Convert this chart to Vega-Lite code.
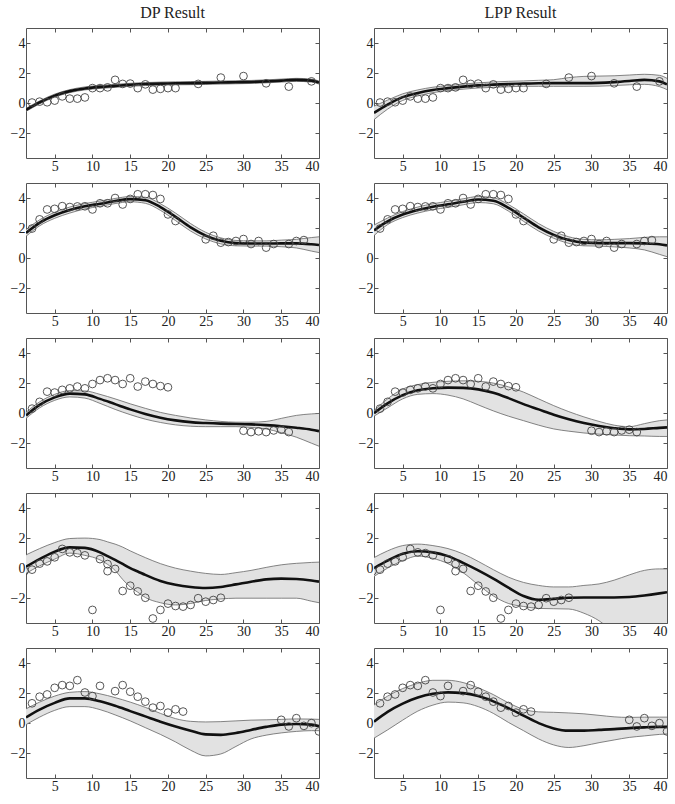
{
"$schema": "https://vega.github.io/schema/vega-lite/v6.json",
"padding": {"left": 5, "top": 5, "right": 5, "bottom": 2},
"config": {
 "font": "Liberation Serif",
 "view": {"stroke": "#555", "strokeWidth": 1},
 "axis": {"grid": false, "domain": false, "labelFont": "Liberation Serif", "labelFontSize": 14, "labelColor": "#222", "tickColor": "#555", "tickSize": -4, "labelPadding": 5, "title": null}
},
"data": {"values": [
{"m":["D"],"r":1,"x":1.2,"lo":-0.55,"mu":-0.45,"hi":-0.35},
{"m":["D"],"r":1,"x":3,"lo":-0.05,"mu":0.05,"hi":0.15},
{"m":["D"],"r":1,"x":5,"lo":0.4,"mu":0.5,"hi":0.6},
{"m":["D"],"r":1,"x":7,"lo":0.7,"mu":0.8,"hi":0.9},
{"m":["D"],"r":1,"x":9,"lo":0.88,"mu":0.98,"hi":1.08},
{"m":["D"],"r":1,"x":11,"lo":0.98,"mu":1.08,"hi":1.18},
{"m":["D"],"r":1,"x":13,"lo":1.05,"mu":1.15,"hi":1.25},
{"m":["D"],"r":1,"x":15,"lo":1.12,"mu":1.22,"hi":1.32},
{"m":["D"],"r":1,"x":17,"lo":1.17,"mu":1.27,"hi":1.37},
{"m":["D"],"r":1,"x":19,"lo":1.2,"mu":1.3,"hi":1.4},
{"m":["D"],"r":1,"x":21,"lo":1.22,"mu":1.32,"hi":1.42},
{"m":["D"],"r":1,"x":23,"lo":1.23,"mu":1.33,"hi":1.43},
{"m":["D"],"r":1,"x":25,"lo":1.25,"mu":1.35,"hi":1.45},
{"m":["D"],"r":1,"x":27,"lo":1.27,"mu":1.37,"hi":1.47},
{"m":["D"],"r":1,"x":29,"lo":1.29,"mu":1.39,"hi":1.49},
{"m":["D"],"r":1,"x":31,"lo":1.31,"mu":1.41,"hi":1.51},
{"m":["D"],"r":1,"x":33,"lo":1.35,"mu":1.45,"hi":1.55},
{"m":["D"],"r":1,"x":35,"lo":1.4,"mu":1.5,"hi":1.6},
{"m":["D"],"r":1,"x":37,"lo":1.45,"mu":1.55,"hi":1.65},
{"m":["D"],"r":1,"x":39,"lo":1.4,"mu":1.5,"hi":1.6},
{"m":["D"],"r":1,"x":40,"lo":1.27,"mu":1.37,"hi":1.47},
{"m":["L"],"r":1,"x":1.2,"lo":-1.1,"mu":-0.65,"hi":-0.2},
{"m":["L"],"r":1,"x":3,"lo":-0.4,"mu":-0.1,"hi":0.2},
{"m":["L"],"r":1,"x":5,"lo":0.18,"mu":0.4,"hi":0.62},
{"m":["L"],"r":1,"x":7,"lo":0.48,"mu":0.68,"hi":0.88},
{"m":["L"],"r":1,"x":9,"lo":0.7,"mu":0.88,"hi":1.06},
{"m":["L"],"r":1,"x":11,"lo":0.83,"mu":1.0,"hi":1.17},
{"m":["L"],"r":1,"x":13,"lo":0.93,"mu":1.1,"hi":1.27},
{"m":["L"],"r":1,"x":15,"lo":1.01,"mu":1.18,"hi":1.35},
{"m":["L"],"r":1,"x":17,"lo":1.05,"mu":1.23,"hi":1.41},
{"m":["L"],"r":1,"x":19,"lo":1.09,"mu":1.27,"hi":1.45},
{"m":["L"],"r":1,"x":21,"lo":1.12,"mu":1.3,"hi":1.48},
{"m":["L"],"r":1,"x":23,"lo":1.12,"mu":1.32,"hi":1.52},
{"m":["L"],"r":1,"x":25,"lo":1.12,"mu":1.33,"hi":1.56},
{"m":["L"],"r":1,"x":27,"lo":1.12,"mu":1.33,"hi":1.7},
{"m":["L"],"r":1,"x":29,"lo":1.12,"mu":1.33,"hi":1.78},
{"m":["L"],"r":1,"x":31,"lo":1.13,"mu":1.35,"hi":1.8},
{"m":["L"],"r":1,"x":33,"lo":1.17,"mu":1.4,"hi":1.82},
{"m":["L"],"r":1,"x":35,"lo":1.22,"mu":1.47,"hi":1.87},
{"m":["L"],"r":1,"x":37,"lo":1.25,"mu":1.55,"hi":1.92},
{"m":["L"],"r":1,"x":39,"lo":1.1,"mu":1.45,"hi":1.85},
{"m":["L"],"r":1,"x":40,"lo":0.9,"mu":1.25,"hi":1.65},
{"m":["D"],"r":2,"x":1.2,"lo":1.45,"mu":1.68,"hi":1.9},
{"m":["D"],"r":2,"x":3,"lo":2.15,"mu":2.35,"hi":2.55},
{"m":["D"],"r":2,"x":5,"lo":2.65,"mu":2.85,"hi":3.05},
{"m":["D"],"r":2,"x":7,"lo":3.0,"mu":3.2,"hi":3.4},
{"m":["D"],"r":2,"x":9,"lo":3.27,"mu":3.45,"hi":3.63},
{"m":["D"],"r":2,"x":11,"lo":3.45,"mu":3.62,"hi":3.8},
{"m":["D"],"r":2,"x":13,"lo":3.63,"mu":3.8,"hi":3.97},
{"m":["D"],"r":2,"x":15,"lo":3.75,"mu":3.93,"hi":4.1},
{"m":["D"],"r":2,"x":17,"lo":3.65,"mu":3.85,"hi":4.05},
{"m":["D"],"r":2,"x":19,"lo":3.18,"mu":3.4,"hi":3.62},
{"m":["D"],"r":2,"x":21,"lo":2.5,"mu":2.75,"hi":3.0},
{"m":["D"],"r":2,"x":23,"lo":1.8,"mu":2.05,"hi":2.3},
{"m":["D"],"r":2,"x":25,"lo":1.28,"mu":1.5,"hi":1.72},
{"m":["D"],"r":2,"x":27,"lo":0.95,"mu":1.15,"hi":1.35},
{"m":["D"],"r":2,"x":29,"lo":0.82,"mu":1.0,"hi":1.18},
{"m":["D"],"r":2,"x":31,"lo":0.8,"mu":0.97,"hi":1.15},
{"m":["D"],"r":2,"x":33,"lo":0.8,"mu":0.97,"hi":1.15},
{"m":["D"],"r":2,"x":35,"lo":0.76,"mu":0.98,"hi":1.2},
{"m":["D"],"r":2,"x":37,"lo":0.68,"mu":0.98,"hi":1.25},
{"m":["D"],"r":2,"x":39,"lo":0.47,"mu":0.92,"hi":1.37},
{"m":["D"],"r":2,"x":40,"lo":0.37,"mu":0.87,"hi":1.42},
{"m":["L"],"r":2,"x":1.2,"lo":1.5,"mu":1.85,"hi":2.2},
{"m":["L"],"r":2,"x":3,"lo":2.23,"mu":2.45,"hi":2.67},
{"m":["L"],"r":2,"x":5,"lo":2.7,"mu":2.9,"hi":3.1},
{"m":["L"],"r":2,"x":7,"lo":3.0,"mu":3.2,"hi":3.4},
{"m":["L"],"r":2,"x":9,"lo":3.22,"mu":3.42,"hi":3.62},
{"m":["L"],"r":2,"x":11,"lo":3.38,"mu":3.58,"hi":3.78},
{"m":["L"],"r":2,"x":13,"lo":3.55,"mu":3.75,"hi":3.95},
{"m":["L"],"r":2,"x":15,"lo":3.7,"mu":3.9,"hi":4.1},
{"m":["L"],"r":2,"x":17,"lo":3.62,"mu":3.82,"hi":4.02},
{"m":["L"],"r":2,"x":19,"lo":3.13,"mu":3.35,"hi":3.57},
{"m":["L"],"r":2,"x":21,"lo":2.45,"mu":2.7,"hi":2.95},
{"m":["L"],"r":2,"x":23,"lo":1.8,"mu":2.05,"hi":2.3},
{"m":["L"],"r":2,"x":25,"lo":1.32,"mu":1.55,"hi":1.78},
{"m":["L"],"r":2,"x":27,"lo":0.98,"mu":1.2,"hi":1.42},
{"m":["L"],"r":2,"x":29,"lo":0.82,"mu":1.03,"hi":1.25},
{"m":["L"],"r":2,"x":31,"lo":0.8,"mu":1.0,"hi":1.22},
{"m":["L"],"r":2,"x":33,"lo":0.75,"mu":1.0,"hi":1.25},
{"m":["L"],"r":2,"x":35,"lo":0.68,"mu":1.0,"hi":1.3},
{"m":["L"],"r":2,"x":37,"lo":0.55,"mu":0.98,"hi":1.38},
{"m":["L"],"r":2,"x":39,"lo":0.25,"mu":0.92,"hi":1.42},
{"m":["L"],"r":2,"x":40,"lo":0.1,"mu":0.85,"hi":1.42},
{"m":["D"],"r":3,"x":1.2,"lo":-0.35,"mu":-0.15,"hi":0.05},
{"m":["D"],"r":3,"x":3,"lo":0.35,"mu":0.55,"hi":0.75},
{"m":["D"],"r":3,"x":5,"lo":0.85,"mu":1.05,"hi":1.25},
{"m":["D"],"r":3,"x":7,"lo":1.08,"mu":1.3,"hi":1.5},
{"m":["D"],"r":3,"x":9,"lo":1.0,"mu":1.25,"hi":1.48},
{"m":["D"],"r":3,"x":11,"lo":0.65,"mu":0.95,"hi":1.25},
{"m":["D"],"r":3,"x":13,"lo":0.25,"mu":0.6,"hi":0.95},
{"m":["D"],"r":3,"x":15,"lo":-0.1,"mu":0.25,"hi":0.62},
{"m":["D"],"r":3,"x":17,"lo":-0.4,"mu":-0.05,"hi":0.32},
{"m":["D"],"r":3,"x":19,"lo":-0.62,"mu":-0.3,"hi":0.05},
{"m":["D"],"r":3,"x":21,"lo":-0.78,"mu":-0.48,"hi":-0.15},
{"m":["D"],"r":3,"x":23,"lo":-0.87,"mu":-0.6,"hi":-0.32},
{"m":["D"],"r":3,"x":25,"lo":-0.9,"mu":-0.66,"hi":-0.45},
{"m":["D"],"r":3,"x":27,"lo":-0.9,"mu":-0.7,"hi":-0.55},
{"m":["D"],"r":3,"x":29,"lo":-0.9,"mu":-0.72,"hi":-0.6},
{"m":["D"],"r":3,"x":31,"lo":-0.95,"mu":-0.75,"hi":-0.6},
{"m":["D"],"r":3,"x":33,"lo":-1.05,"mu":-0.8,"hi":-0.55},
{"m":["D"],"r":3,"x":35,"lo":-1.3,"mu":-0.87,"hi":-0.35},
{"m":["D"],"r":3,"x":37,"lo":-1.6,"mu":-0.97,"hi":-0.15},
{"m":["D"],"r":3,"x":39,"lo":-2.0,"mu":-1.1,"hi":-0.05},
{"m":["D"],"r":3,"x":40,"lo":-2.2,"mu":-1.2,"hi":-0.02},
{"m":["L"],"r":3,"x":1.2,"lo":-0.2,"mu":0.0,"hi":0.15},
{"m":["L"],"r":3,"x":3,"lo":0.35,"mu":0.65,"hi":0.95},
{"m":["L"],"r":3,"x":5,"lo":0.95,"mu":1.2,"hi":1.6},
{"m":["L"],"r":3,"x":7,"lo":1.25,"mu":1.52,"hi":1.9},
{"m":["L"],"r":3,"x":9,"lo":1.3,"mu":1.66,"hi":2.05},
{"m":["L"],"r":3,"x":11,"lo":1.2,"mu":1.7,"hi":2.12},
{"m":["L"],"r":3,"x":13,"lo":0.95,"mu":1.68,"hi":2.15},
{"m":["L"],"r":3,"x":15,"lo":0.55,"mu":1.58,"hi":2.12},
{"m":["L"],"r":3,"x":17,"lo":0.15,"mu":1.35,"hi":2.0},
{"m":["L"],"r":3,"x":19,"lo":-0.2,"mu":1.0,"hi":1.75},
{"m":["L"],"r":3,"x":21,"lo":-0.5,"mu":0.6,"hi":1.4},
{"m":["L"],"r":3,"x":23,"lo":-0.8,"mu":0.25,"hi":0.95},
{"m":["L"],"r":3,"x":25,"lo":-1.05,"mu":-0.1,"hi":0.5},
{"m":["L"],"r":3,"x":27,"lo":-1.2,"mu":-0.4,"hi":0.1},
{"m":["L"],"r":3,"x":29,"lo":-1.32,"mu":-0.65,"hi":-0.25},
{"m":["L"],"r":3,"x":31,"lo":-1.4,"mu":-0.85,"hi":-0.55},
{"m":["L"],"r":3,"x":33,"lo":-1.45,"mu":-1.0,"hi":-0.8},
{"m":["L"],"r":3,"x":35,"lo":-1.5,"mu":-1.08,"hi":-0.9},
{"m":["L"],"r":3,"x":37,"lo":-1.52,"mu":-1.05,"hi":-0.7},
{"m":["L"],"r":3,"x":39,"lo":-1.55,"mu":-0.98,"hi":-0.5},
{"m":["L"],"r":3,"x":40,"lo":-1.55,"mu":-0.95,"hi":-0.45},
{"m":["D"],"r":4,"x":1.2,"lo":-0.35,"mu":0.1,"hi":0.88},
{"m":["D"],"r":4,"x":3,"lo":0.15,"mu":0.6,"hi":1.3},
{"m":["D"],"r":4,"x":5,"lo":0.6,"mu":1.1,"hi":1.7},
{"m":["D"],"r":4,"x":7,"lo":1.0,"mu":1.38,"hi":1.97},
{"m":["D"],"r":4,"x":9,"lo":0.85,"mu":1.35,"hi":2.0},
{"m":["D"],"r":4,"x":11,"lo":0.55,"mu":1.05,"hi":1.9},
{"m":["D"],"r":4,"x":12,"lo":0.25,"mu":0.8,"hi":1.75},
{"m":["D"],"r":4,"x":13,"lo":-0.15,"mu":0.55,"hi":1.6},
{"m":["D"],"r":4,"x":14,"lo":-0.75,"mu":0.28,"hi":1.4},
{"m":["D"],"r":4,"x":15,"lo":-1.25,"mu":0.0,"hi":1.15},
{"m":["D"],"r":4,"x":16,"lo":-1.6,"mu":-0.22,"hi":0.92},
{"m":["D"],"r":4,"x":17,"lo":-1.95,"mu":-0.45,"hi":0.7},
{"m":["D"],"r":4,"x":19,"lo":-2.3,"mu":-0.85,"hi":0.3},
{"m":["D"],"r":4,"x":21,"lo":-2.45,"mu":-1.1,"hi":0.0},
{"m":["D"],"r":4,"x":23,"lo":-2.35,"mu":-1.25,"hi":-0.2},
{"m":["D"],"r":4,"x":25,"lo":-2.15,"mu":-1.32,"hi":-0.35},
{"m":["D"],"r":4,"x":27,"lo":-2.05,"mu":-1.25,"hi":-0.42},
{"m":["D"],"r":4,"x":29,"lo":-2.0,"mu":-1.08,"hi":-0.3},
{"m":["D"],"r":4,"x":31,"lo":-2.0,"mu":-0.9,"hi":-0.15},
{"m":["D"],"r":4,"x":33,"lo":-2.0,"mu":-0.75,"hi":0.05},
{"m":["D"],"r":4,"x":35,"lo":-2.0,"mu":-0.7,"hi":0.22},
{"m":["D"],"r":4,"x":37,"lo":-2.0,"mu":-0.72,"hi":0.32},
{"m":["D"],"r":4,"x":39,"lo":-2.2,"mu":-0.82,"hi":0.38},
{"m":["D"],"r":4,"x":40,"lo":-2.3,"mu":-0.9,"hi":0.4},
{"m":["L"],"r":4,"x":1.2,"lo":-0.55,"mu":0.0,"hi":0.7},
{"m":["L"],"r":4,"x":3,"lo":0.0,"mu":0.5,"hi":1.15},
{"m":["L"],"r":4,"x":5,"lo":0.5,"mu":0.95,"hi":1.5},
{"m":["L"],"r":4,"x":7,"lo":0.8,"mu":1.12,"hi":1.6},
{"m":["L"],"r":4,"x":9,"lo":0.65,"mu":1.05,"hi":1.5},
{"m":["L"],"r":4,"x":11,"lo":0.3,"mu":0.8,"hi":1.3},
{"m":["L"],"r":4,"x":13,"lo":-0.3,"mu":0.35,"hi":0.95},
{"m":["L"],"r":4,"x":15,"lo":-1.1,"mu":-0.15,"hi":0.45},
{"m":["L"],"r":4,"x":17,"lo":-1.85,"mu":-0.7,"hi":-0.1},
{"m":["L"],"r":4,"x":19,"lo":-2.35,"mu":-1.3,"hi":-0.6},
{"m":["L"],"r":4,"x":21,"lo":-2.55,"mu":-1.85,"hi":-0.95},
{"m":["L"],"r":4,"x":23,"lo":-2.68,"mu":-2.1,"hi":-1.15},
{"m":["L"],"r":4,"x":25,"lo":-2.7,"mu":-2.05,"hi":-1.25},
{"m":["L"],"r":4,"x":27,"lo":-2.72,"mu":-1.97,"hi":-1.25},
{"m":["L"],"r":4,"x":29,"lo":-3.0,"mu":-1.95,"hi":-1.15},
{"m":["L"],"r":4,"x":31,"lo":-3.5,"mu":-1.95,"hi":-1.05},
{"m":["L"],"r":4,"x":33,"lo":-4.3,"mu":-1.95,"hi":-0.8},
{"m":["L"],"r":4,"x":35,"lo":-5.0,"mu":-1.92,"hi":-0.45},
{"m":["L"],"r":4,"x":37,"lo":-5.7,"mu":-1.82,"hi":-0.15},
{"m":["L"],"r":4,"x":39,"lo":-6.4,"mu":-1.68,"hi":-0.05},
{"m":["L"],"r":4,"x":40,"lo":-6.8,"mu":-1.6,"hi":-0.05},
{"m":["D"],"r":5,"x":1.2,"lo":-0.1,"mu":0.38,"hi":0.95},
{"m":["D"],"r":5,"x":3,"lo":0.4,"mu":0.9,"hi":1.4},
{"m":["D"],"r":5,"x":5,"lo":0.85,"mu":1.35,"hi":1.8},
{"m":["D"],"r":5,"x":7,"lo":1.1,"mu":1.65,"hi":2.05},
{"m":["D"],"r":5,"x":9,"lo":1.1,"mu":1.65,"hi":2.1},
{"m":["D"],"r":5,"x":11,"lo":0.9,"mu":1.45,"hi":1.95},
{"m":["D"],"r":5,"x":13,"lo":0.55,"mu":1.15,"hi":1.7},
{"m":["D"],"r":5,"x":15,"lo":0.15,"mu":0.8,"hi":1.4},
{"m":["D"],"r":5,"x":17,"lo":-0.3,"mu":0.45,"hi":1.05},
{"m":["D"],"r":5,"x":19,"lo":-0.75,"mu":0.1,"hi":0.65},
{"m":["D"],"r":5,"x":21,"lo":-1.25,"mu":-0.22,"hi":0.3},
{"m":["D"],"r":5,"x":23,"lo":-1.8,"mu":-0.5,"hi":0.12},
{"m":["D"],"r":5,"x":25,"lo":-2.18,"mu":-0.75,"hi":0.08},
{"m":["D"],"r":5,"x":27,"lo":-2.05,"mu":-0.78,"hi":0.1},
{"m":["D"],"r":5,"x":29,"lo":-1.55,"mu":-0.65,"hi":0.15},
{"m":["D"],"r":5,"x":31,"lo":-1.05,"mu":-0.45,"hi":0.2},
{"m":["D"],"r":5,"x":33,"lo":-0.8,"mu":-0.25,"hi":0.22},
{"m":["D"],"r":5,"x":35,"lo":-0.65,"mu":-0.1,"hi":0.25},
{"m":["D"],"r":5,"x":37,"lo":-0.55,"mu":-0.06,"hi":0.28},
{"m":["D"],"r":5,"x":39,"lo":-0.5,"mu":-0.1,"hi":0.27},
{"m":["D"],"r":5,"x":40,"lo":-0.5,"mu":-0.2,"hi":0.25},
{"m":["L"],"r":5,"x":1.2,"lo":-1.0,"mu":0.1,"hi":1.2},
{"m":["L"],"r":5,"x":3,"lo":-0.45,"mu":0.75,"hi":1.8},
{"m":["L"],"r":5,"x":5,"lo":0.2,"mu":1.3,"hi":2.3},
{"m":["L"],"r":5,"x":7,"lo":0.8,"mu":1.7,"hi":2.65},
{"m":["L"],"r":5,"x":9,"lo":1.2,"mu":1.95,"hi":2.85},
{"m":["L"],"r":5,"x":11,"lo":1.4,"mu":2.05,"hi":2.85},
{"m":["L"],"r":5,"x":13,"lo":1.35,"mu":2.0,"hi":2.7},
{"m":["L"],"r":5,"x":15,"lo":1.1,"mu":1.8,"hi":2.35},
{"m":["L"],"r":5,"x":17,"lo":0.65,"mu":1.45,"hi":1.9},
{"m":["L"],"r":5,"x":19,"lo":0.05,"mu":1.0,"hi":1.35},
{"m":["L"],"r":5,"x":21,"lo":-0.5,"mu":0.5,"hi":0.92},
{"m":["L"],"r":5,"x":23,"lo":-1.05,"mu":0.0,"hi":0.75},
{"m":["L"],"r":5,"x":25,"lo":-1.45,"mu":-0.35,"hi":0.72},
{"m":["L"],"r":5,"x":27,"lo":-1.62,"mu":-0.5,"hi":0.68},
{"m":["L"],"r":5,"x":29,"lo":-1.5,"mu":-0.5,"hi":0.62},
{"m":["L"],"r":5,"x":31,"lo":-1.3,"mu":-0.45,"hi":0.52},
{"m":["L"],"r":5,"x":33,"lo":-1.12,"mu":-0.4,"hi":0.42},
{"m":["L"],"r":5,"x":35,"lo":-0.95,"mu":-0.33,"hi":0.38},
{"m":["L"],"r":5,"x":37,"lo":-0.85,"mu":-0.28,"hi":0.4},
{"m":["L"],"r":5,"x":39,"lo":-0.75,"mu":-0.25,"hi":0.4},
{"m":["L"],"r":5,"x":40,"lo":-0.72,"mu":-0.25,"hi":0.4},
{"m":["D","L"],"r":1,"x":2,"y":0.04},{"m":["D","L"],"r":1,"x":3,"y":0.1},{"m":["D","L"],"r":1,"x":4,"y":0.06},{"m":["D","L"],"r":1,"x":5,"y":0.17},{"m":["D","L"],"r":1,"x":6,"y":0.45},{"m":["D","L"],"r":1,"x":7,"y":0.3},{"m":["D","L"],"r":1,"x":8,"y":0.3},{"m":["D","L"],"r":1,"x":9,"y":0.38},{"m":["D","L"],"r":1,"x":10,"y":1.0},{"m":["D","L"],"r":1,"x":11,"y":1.0},{"m":["D","L"],"r":1,"x":12,"y":1.05},{"m":["D","L"],"r":1,"x":13,"y":1.55},{"m":["D","L"],"r":1,"x":14,"y":1.28},{"m":["D","L"],"r":1,"x":15,"y":1.3},{"m":["D","L"],"r":1,"x":16,"y":1.0},{"m":["D","L"],"r":1,"x":17,"y":1.25},{"m":["D","L"],"r":1,"x":18,"y":0.9},{"m":["D","L"],"r":1,"x":19,"y":0.95},{"m":["D","L"],"r":1,"x":20,"y":1.0},{"m":["D","L"],"r":1,"x":21,"y":1.0},{"m":["D","L"],"r":1,"x":24,"y":1.28},{"m":["D","L"],"r":1,"x":27,"y":1.7},{"m":["D","L"],"r":1,"x":30,"y":1.8},{"m":["D","L"],"r":1,"x":33,"y":1.32},{"m":["D","L"],"r":1,"x":36,"y":1.1},{"m":["D","L"],"r":1,"x":39,"y":1.45},
{"m":["D","L"],"r":2,"x":2,"y":1.97},{"m":["D","L"],"r":2,"x":3,"y":2.58},{"m":["D","L"],"r":2,"x":4,"y":3.24},{"m":["D","L"],"r":2,"x":5,"y":3.28},{"m":["D","L"],"r":2,"x":6,"y":3.46},{"m":["D","L"],"r":2,"x":7,"y":3.4},{"m":["D","L"],"r":2,"x":8,"y":3.44},{"m":["D","L"],"r":2,"x":9,"y":3.45},{"m":["D","L"],"r":2,"x":10,"y":3.24},{"m":["D","L"],"r":2,"x":11,"y":3.65},{"m":["D","L"],"r":2,"x":12,"y":3.65},{"m":["D","L"],"r":2,"x":13,"y":4.0},{"m":["D","L"],"r":2,"x":14,"y":3.57},{"m":["D","L"],"r":2,"x":15,"y":3.94},{"m":["D","L"],"r":2,"x":16,"y":4.25},{"m":["D","L"],"r":2,"x":17,"y":4.25},{"m":["D","L"],"r":2,"x":18,"y":4.2},{"m":["D","L"],"r":2,"x":19,"y":3.94},{"m":["D","L"],"r":2,"x":20,"y":2.91},{"m":["D","L"],"r":2,"x":21,"y":2.47},{"m":["D","L"],"r":2,"x":25,"y":1.25},{"m":["D","L"],"r":2,"x":26,"y":1.49},{"m":["D","L"],"r":2,"x":27,"y":1.03},{"m":["D","L"],"r":2,"x":28,"y":1.07},{"m":["D","L"],"r":2,"x":29,"y":1.14},{"m":["D","L"],"r":2,"x":30,"y":1.27},{"m":["D","L"],"r":2,"x":31,"y":0.94},{"m":["D","L"],"r":2,"x":32,"y":1.14},{"m":["D","L"],"r":2,"x":33,"y":0.7},{"m":["D","L"],"r":2,"x":34,"y":0.94},{"m":["D","L"],"r":2,"x":36,"y":0.94},{"m":["D","L"],"r":2,"x":37,"y":1.14},{"m":["D","L"],"r":2,"x":38,"y":1.2},
{"m":["D","L"],"r":3,"x":2,"y":0.3},{"m":["D","L"],"r":3,"x":3,"y":0.75},{"m":["D","L"],"r":3,"x":4,"y":1.43},{"m":["D","L"],"r":3,"x":5,"y":1.37},{"m":["D","L"],"r":3,"x":6,"y":1.55},{"m":["D","L"],"r":3,"x":7,"y":1.65},{"m":["D","L"],"r":3,"x":8,"y":1.77},{"m":["D","L"],"r":3,"x":9,"y":1.65},{"m":["D","L"],"r":3,"x":10,"y":1.94},{"m":["D","L"],"r":3,"x":11,"y":2.2},{"m":["D","L"],"r":3,"x":12,"y":2.32},{"m":["D","L"],"r":3,"x":13,"y":2.2},{"m":["D","L"],"r":3,"x":14,"y":1.94},{"m":["D","L"],"r":3,"x":15,"y":2.32},{"m":["D","L"],"r":3,"x":16,"y":1.77},{"m":["D","L"],"r":3,"x":17,"y":2.1},{"m":["D","L"],"r":3,"x":18,"y":1.94},{"m":["D","L"],"r":3,"x":19,"y":1.8},{"m":["D","L"],"r":3,"x":20,"y":1.72},{"m":["D","L"],"r":3,"x":30,"y":-1.17},{"m":["D","L"],"r":3,"x":31,"y":-1.26},{"m":["D","L"],"r":3,"x":32,"y":-1.21},{"m":["D","L"],"r":3,"x":33,"y":-1.26},{"m":["D","L"],"r":3,"x":34,"y":-1.15},{"m":["D","L"],"r":3,"x":35,"y":-1.1},{"m":["D","L"],"r":3,"x":36,"y":-1.26},
{"m":["D","L"],"r":4,"x":1,"y":-0.2},{"m":["D","L"],"r":4,"x":2,"y":-0.1},{"m":["D","L"],"r":4,"x":3,"y":0.3},{"m":["D","L"],"r":4,"x":4,"y":0.45},{"m":["D","L"],"r":4,"x":5,"y":0.72},{"m":["D","L"],"r":4,"x":6,"y":1.28},{"m":["D","L"],"r":4,"x":7,"y":1.05},{"m":["D","L"],"r":4,"x":8,"y":1.0},{"m":["D","L"],"r":4,"x":9,"y":0.85},{"m":["D","L"],"r":4,"x":10,"y":-2.78},{"m":["D","L"],"r":4,"x":11,"y":0.6},{"m":["D","L"],"r":4,"x":12,"y":0.27},{"m":["D","L"],"r":4,"x":12,"y":-0.2},{"m":["D","L"],"r":4,"x":13,"y":-0.05},{"m":["D","L"],"r":4,"x":14,"y":-1.52},{"m":["D","L"],"r":4,"x":15,"y":-1.17},{"m":["D","L"],"r":4,"x":16,"y":-1.55},{"m":["D","L"],"r":4,"x":17,"y":-1.97},{"m":["D","L"],"r":4,"x":18,"y":-3.35},{"m":["D","L"],"r":4,"x":19,"y":-2.78},{"m":["D","L"],"r":4,"x":20,"y":-2.36},{"m":["D","L"],"r":4,"x":21,"y":-2.52},{"m":["D","L"],"r":4,"x":22,"y":-2.56},{"m":["D","L"],"r":4,"x":23,"y":-2.45},{"m":["D","L"],"r":4,"x":24,"y":-2.0},{"m":["D","L"],"r":4,"x":25,"y":-2.23},{"m":["D","L"],"r":4,"x":26,"y":-2.12},{"m":["D","L"],"r":4,"x":27,"y":-1.97},
{"m":["D","L"],"r":5,"x":2,"y":1.32},{"m":["D","L"],"r":5,"x":3,"y":1.76},{"m":["D","L"],"r":5,"x":4,"y":1.91},{"m":["D","L"],"r":5,"x":5,"y":2.35},{"m":["D","L"],"r":5,"x":6,"y":2.53},{"m":["D","L"],"r":5,"x":7,"y":2.48},{"m":["D","L"],"r":5,"x":8,"y":2.86},{"m":["D","L"],"r":5,"x":9,"y":2.04},{"m":["D","L"],"r":5,"x":10,"y":1.8},{"m":["D","L"],"r":5,"x":11,"y":2.48},{"m":["D","L"],"r":5,"x":13,"y":2.13},{"m":["D","L"],"r":5,"x":14,"y":2.53},{"m":["D","L"],"r":5,"x":15,"y":2.09},{"m":["D","L"],"r":5,"x":16,"y":1.76},{"m":["D","L"],"r":5,"x":17,"y":1.43},{"m":["D","L"],"r":5,"x":18,"y":1.03},{"m":["D","L"],"r":5,"x":19,"y":1.14},{"m":["D","L"],"r":5,"x":20,"y":0.7},{"m":["D","L"],"r":5,"x":21,"y":0.92},{"m":["D","L"],"r":5,"x":22,"y":0.77},{"m":["D","L"],"r":5,"x":35,"y":0.22},{"m":["D","L"],"r":5,"x":36,"y":-0.22},{"m":["D","L"],"r":5,"x":37,"y":0.33},{"m":["D","L"],"r":5,"x":38,"y":-0.18},{"m":["D","L"],"r":5,"x":39,"y":0.0},{"m":["D","L"],"r":5,"x":40,"y":-0.55}
]},
"transform": [{"flatten": ["m"]}],
"facet": {
 "row": {"field": "r", "type": "ordinal", "header": {"labels": false, "title": null}},
 "column": {"field": "m", "type": "nominal", "header": {"title": null, "labelExpr": "datum.value == 'D' ? 'DP Result' : 'LPP Result'", "labelFont": "Liberation Serif", "labelFontSize": 16, "labelColor": "#222", "labelPadding": 6}}
},
"spacing": {"row": 7, "column": 33},
"resolve": {"axis": {"x": "independent", "y": "independent"}},
"spec": {
 "width": 293,
 "height": 130,
 "resolve": {"axis": {"x": "independent", "y": "independent"}},
 "layer": [
  {"transform": [{"filter": "isValid(datum.mu)"}],
   "mark": {"type": "area", "interpolate": "monotone", "fill": "#e2e2e2", "clip": true},
   "encoding": {
    "x": {"field": "x", "type": "quantitative", "scale": {"domain": [1.2, 40], "nice": false, "zero": false}, "axis": {"values": [5, 10, 15, 20, 25, 30, 35, 40], "labelFont": "Liberation Serif", "labelFontSize": 14, "minExtent": 16, "maxExtent": 16}},
    "y": {"field": "lo", "type": "quantitative", "scale": {"domain": [-3.65, 5], "nice": false, "zero": false}, "axis": {"values": [-2, 0, 2, 4], "labelFont": "Liberation Serif", "labelFontSize": 14, "minExtent": 20, "maxExtent": 20}},
    "y2": {"field": "hi"}}},
  {"transform": [{"filter": "isValid(datum.mu)"}],
   "mark": {"type": "line", "interpolate": "monotone", "stroke": "#666", "strokeWidth": 0.8, "clip": true},
   "encoding": {"x": {"field": "x", "type": "quantitative", "axis": null}, "y": {"field": "lo", "type": "quantitative", "axis": null}}},
  {"transform": [{"filter": "isValid(datum.mu)"}],
   "mark": {"type": "line", "interpolate": "monotone", "stroke": "#666", "strokeWidth": 0.8, "clip": true},
   "encoding": {"x": {"field": "x", "type": "quantitative", "axis": null}, "y": {"field": "hi", "type": "quantitative", "axis": null}}},
  {"transform": [{"filter": "isValid(datum.mu)"}],
   "mark": {"type": "line", "interpolate": "monotone", "stroke": "#111", "strokeWidth": 2.6, "clip": true},
   "encoding": {"x": {"field": "x", "type": "quantitative", "axis": null}, "y": {"field": "mu", "type": "quantitative", "axis": null}}},
  {"transform": [{"filter": "isValid(datum.y)"}],
   "mark": {"type": "point", "shape": "circle", "filled": false, "stroke": "#444", "strokeWidth": 0.9, "size": 60, "opacity": 1, "clip": true},
   "encoding": {
    "x": {"field": "x", "type": "quantitative", "axis": {"orient": "top", "labels": false, "values": [5, 10, 15, 20, 25, 30, 35, 40], "minExtent": 0, "maxExtent": 0}},
    "y": {"field": "y", "type": "quantitative", "axis": {"orient": "right", "labels": false, "values": [-2, 0, 2, 4], "minExtent": 0, "maxExtent": 0}}}}
 ]
}
}
